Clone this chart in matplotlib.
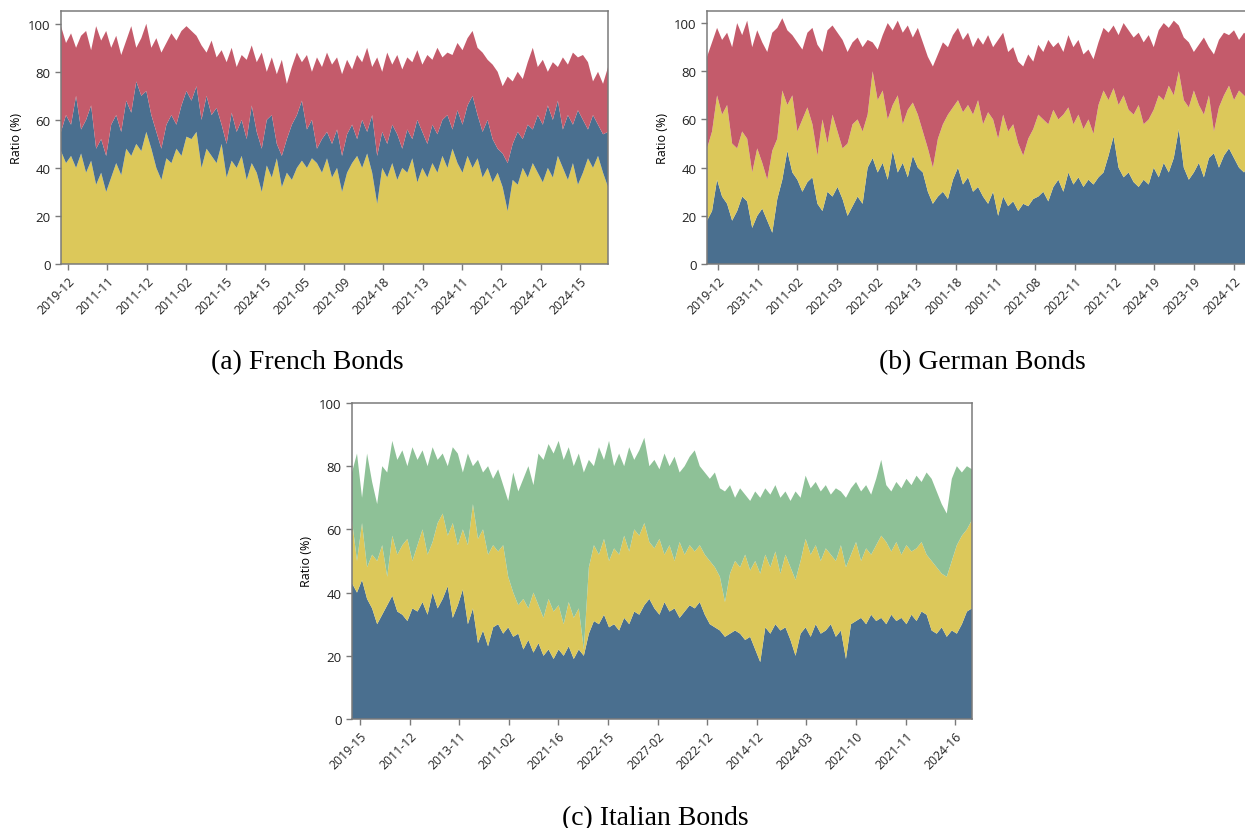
import numpy as np
import matplotlib
matplotlib.use('Agg')
import matplotlib.pyplot as plt

plt.rcParams.update({
    'font.family': 'Open Sans', 'font.size': 9,
    'axes.edgecolor': '#7a7a7a', 'axes.linewidth': 1.1,
    'xtick.color': '#7a7a7a', 'ytick.color': '#7a7a7a',
    'xtick.labelcolor': '#222222', 'ytick.labelcolor': '#222222',
})

RED = '#C45B6B'
BLUE = '#4A6F8F'
YELLOW = '#DCC85A'
GREEN = '#8EC197'

# ── French bonds (share per layer, %) ──
fr_yellow = [47, 42, 45, 40, 46, 38, 43, 33, 38, 30,
             36, 42, 37, 48, 45, 50, 47, 55, 48, 40,
             35, 44, 42, 48, 45, 53, 52, 55, 40, 48,
             45, 42, 50, 36, 43, 40, 45, 35, 42, 38,
             30, 41, 36, 44, 32, 38, 35, 40, 43, 40,
             44, 42, 38, 44, 36, 40, 30, 38, 42, 45,
             40, 46, 38, 25, 40, 36, 42, 35, 40, 38,
             44, 34, 40, 36, 42, 38, 45, 40, 48, 42,
             38, 45, 40, 44, 36, 40, 34, 38, 32, 22,
             35, 33, 40, 36, 42, 38, 34, 40, 36, 45,
             40, 35, 42, 33, 38, 44, 40, 45, 38, 32]
fr_blue = [8, 20, 13, 30, 10, 22, 23, 15, 14, 15,
           22, 20, 18, 20, 18, 26, 23, 17, 14, 15,
           13, 14, 20, 10, 21, 19, 16, 19, 20, 22,
           17, 23, 8, 14, 20, 15, 15, 17, 24, 17,
           18, 19, 26, 6, 13, 14, 23, 22, 25, 16,
           16, 6, 14, 11, 14, 16, 15, 16, 16, 7,
           20, 9, 24, 20, 15, 14, 16, 19, 8, 18,
           8, 26, 15, 14, 16, 16, 15, 22, 8, 22,
           20, 21, 30, 18, 19, 20, 18, 10, 14, 20,
           15, 22, 12, 22, 14, 24, 24, 26, 24, 23,
           16, 27, 16, 31, 22, 12, 22, 13, 16, 23]
fr_red = [44, 30, 38, 20, 39, 37, 23, 51, 41, 52,
          32, 33, 32, 25, 36, 14, 24, 28, 28, 39,
          40, 34, 34, 35, 31, 27, 29, 21, 31, 18,
          31, 21, 31, 34, 27, 27, 27, 33, 25, 29,
          40, 20, 24, 29, 40, 23, 24, 26, 16, 31,
          20, 38, 30, 33, 33, 30, 34, 31, 23, 35,
          24, 35, 20, 41, 25, 38, 25, 33, 33, 30,
          32, 29, 28, 37, 27, 36, 26, 26, 31, 28,
          31, 28, 27, 28, 33, 25, 31, 32, 28, 36,
          26, 25, 25, 26, 34, 20, 27, 14, 24, 14,
          30, 21, 30, 22, 27, 28, 14, 22, 21, 27]
fr_ticks = ['2019-12', '2011-11', '2011-12', '2011-02', '2021-15', '2024-15',
            '2021-05', '2021-09', '2024-18', '2021-13', '2024-11', '2021-12',
            '2024-12', '2024-15']

# ── German bonds ──
de_blue = [18, 22, 35, 28, 25, 18, 22, 28, 26, 15,
           20, 23, 18, 13, 27, 35, 47, 38, 35, 30,
           34, 36, 25, 22, 30, 28, 32, 27, 20, 24,
           28, 25, 40, 44, 38, 42, 35, 47, 38, 42,
           36, 45, 40, 38, 30, 25, 28, 30, 27, 35,
           40, 33, 36, 30, 32, 28, 25, 30, 20, 28,
           24, 26, 22, 25, 24, 27, 28, 30, 26, 32,
           35, 30, 38, 33, 36, 32, 35, 33, 36, 38,
           45, 53, 40, 36, 38, 34, 32, 35, 33, 40,
           36, 42, 38, 44, 56, 40, 35, 38, 42, 36,
           44, 46, 40, 45, 48, 44, 40, 38, 42, 40]
de_yellow = [30, 33, 35, 34, 41, 32, 26, 27, 26, 23,
             28, 19, 17, 34, 25, 37, 19, 32, 20, 30,
             31, 22, 20, 38, 20, 34, 23, 21, 30, 34,
             32, 30, 22, 36, 30, 30, 25, 19, 32, 16,
             28, 22, 22, 17, 18, 15, 24, 28, 35, 30,
             28, 30, 30, 32, 36, 30, 38, 30, 32, 34,
             31, 32, 28, 20, 28, 29, 34, 30, 32, 32,
             25, 32, 27, 25, 26, 24, 25, 21, 30, 34,
             23, 20, 26, 34, 26, 28, 34, 23, 27, 24,
             34, 26, 36, 26, 24, 28, 30, 34, 24, 26,
             26, 9, 25, 25, 26, 24, 32, 32, 26, 30]
de_red = [38, 37, 28, 31, 30, 40, 52, 40, 49, 52,
          49, 50, 53, 49, 46, 30, 31, 25, 37, 29,
          31, 40, 46, 28, 47, 37, 41, 45, 38, 34,
          34, 35, 31, 12, 21, 23, 40, 31, 31, 38,
          35, 27, 36, 37, 38, 42, 35, 34, 28, 30,
          30, 30, 30, 28, 26, 33, 32, 30, 41, 34,
          33, 32, 34, 37, 35, 28, 29, 28, 35, 26,
          32, 26, 30, 32, 31, 31, 29, 31, 26, 26,
          28, 26, 29, 30, 33, 32, 30, 34, 35, 26,
          27, 32, 24, 31, 19, 26, 27, 16, 25, 32,
          20, 32, 28, 26, 21, 29, 21, 26, 26, 22]
de_ticks = ['2019-12', '2031-11', '2011-02', '2021-03', '2021-02', '2024-13',
            '2001-18', '2001-11', '2021-08', '2022-11', '2021-12', '2024-19',
            '2023-19', '2024-12']

# ── Italian bonds ──
it_blue = [43, 40, 44, 38, 35, 30, 33, 36, 39, 34,
           33, 31, 35, 34, 37, 33, 40, 35, 38, 42,
           32, 36, 41, 30, 35, 24, 28, 23, 29, 30,
           27, 29, 26, 27, 22, 25, 21, 24, 20, 22,
           19, 22, 20, 23, 19, 22, 20, 27, 31, 30,
           33, 29, 30, 28, 32, 30, 34, 33, 36, 38,
           35, 33, 37, 34, 35, 32, 34, 36, 35, 37,
           33, 30, 29, 28, 26, 27, 28, 27, 25, 26,
           22, 18, 29, 27, 30, 28, 29, 25, 20, 27,
           29, 26, 30, 27, 28, 30, 26, 28, 19, 30,
           31, 32, 30, 33, 31, 32, 30, 33, 31, 32,
           30, 33, 31, 34, 33, 28, 27, 29, 26, 28,
           27, 30, 34, 35]
it_yellow = [20, 10, 18, 10, 17, 20, 22, 9, 19, 18,
             22, 26, 15, 21, 23, 19, 16, 27, 27, 16,
             30, 19, 19, 25, 33, 33, 32, 29, 26, 23,
             28, 16, 14, 9, 16, 10, 19, 12, 12, 16,
             15, 14, 10, 14, 13, 13, 2, 21, 24, 22,
             24, 21, 24, 24, 26, 23, 26, 25, 26, 18,
             19, 24, 15, 21, 15, 24, 18, 19, 18, 18,
             19, 20, 19, 17, 11, 19, 22, 21, 27, 21,
             28, 28, 23, 21, 23, 18, 23, 23, 24, 23,
             28, 26, 25, 23, 26, 22, 24, 27, 29, 22,
             25, 18, 24, 19, 24, 26, 26, 20, 25, 20,
             25, 20, 23, 22, 19, 22, 21, 17, 19, 22,
             28, 28, 26, 28]
it_green = [15, 34, 8, 36, 23, 18, 25, 33, 30, 30,
            30, 23, 36, 27, 25, 28, 30, 20, 19, 22,
            24, 29, 18, 29, 12, 25, 18, 28, 21, 26,
            19, 24, 38, 36, 38, 45, 34, 48, 50, 49,
            50, 52, 52, 49, 48, 49, 56, 34, 25, 34,
            25, 38, 26, 32, 22, 33, 22, 27, 27, 24,
            28, 22, 32, 25, 33, 22, 28, 28, 32, 25,
            26, 26, 30, 28, 35, 28, 20, 25, 19, 22,
            22, 24, 21, 23, 21, 24, 20, 21, 28, 20,
            20, 21, 20, 22, 20, 19, 23, 17, 22, 21,
            19, 22, 20, 19, 21, 24, 18, 19, 19, 21,
            21, 21, 23, 19, 26, 26, 24, 22, 20, 26,
            25, 20, 20, 16]
it_ticks = ['2019-15', '2011-12', '2013-11', '2011-02', '2021-16', '2022-15',
            '2027-02', '2022-12', '2014-12', '2024-03', '2021-10', '2021-11',
            '2024-16']


def stacked_panel(ax, layers, colors, tick_labels, tick_start, tick_step, ymax):
    x = np.arange(len(layers[0]))
    ax.stackplot(x, *layers, colors=colors, linewidth=0)
    ax.set_xlim(0, len(x) - 1)
    ax.set_ylim(0, ymax)
    ax.set_yticks([0, 20, 40, 60, 80, 100])
    ax.set_xticks(tick_start + tick_step * np.arange(len(tick_labels)))
    ax.set_xticklabels(tick_labels, rotation=45, ha='right',
                       rotation_mode='anchor', fontsize=8.8)
    ax.tick_params(axis='y', labelsize=9.5)
    ax.tick_params(length=4, width=1)
    ax.set_ylabel('Ratio (%)', fontsize=9, labelpad=4)


fig = plt.figure(figsize=(12.45, 8.29), dpi=100)

ax_a = fig.add_axes([0.049, 0.6803, 0.4394, 0.3052])
stacked_panel(ax_a, [fr_yellow, fr_blue, fr_red], [YELLOW, BLUE, RED],
              fr_ticks, 1.4, 7.85, 105.3)

ax_b = fig.add_axes([0.5679, 0.6803, 0.4394, 0.3052])
stacked_panel(ax_b, [de_blue, de_yellow, de_red], [BLUE, YELLOW, RED],
              de_ticks, 2.2, 7.9, 105)

ax_c = fig.add_axes([0.2827, 0.1315, 0.498, 0.3812])
stacked_panel(ax_c, [it_blue, it_yellow, it_green], [BLUE, YELLOW, GREEN],
              it_ticks, 1.6, 9.84, 100)

cap = dict(family='Liberation Serif', fontsize=20, ha='center', va='center')
fig.text(0.2466, 0.562, '(a) French Bonds', **cap)
fig.text(0.7888, 0.562, '(b) German Bonds', **cap)
fig.text(0.5261, 0.013, '(c) Italian Bonds', **cap)

fig.savefig('out.png', dpi=100)
plt.close(fig)
